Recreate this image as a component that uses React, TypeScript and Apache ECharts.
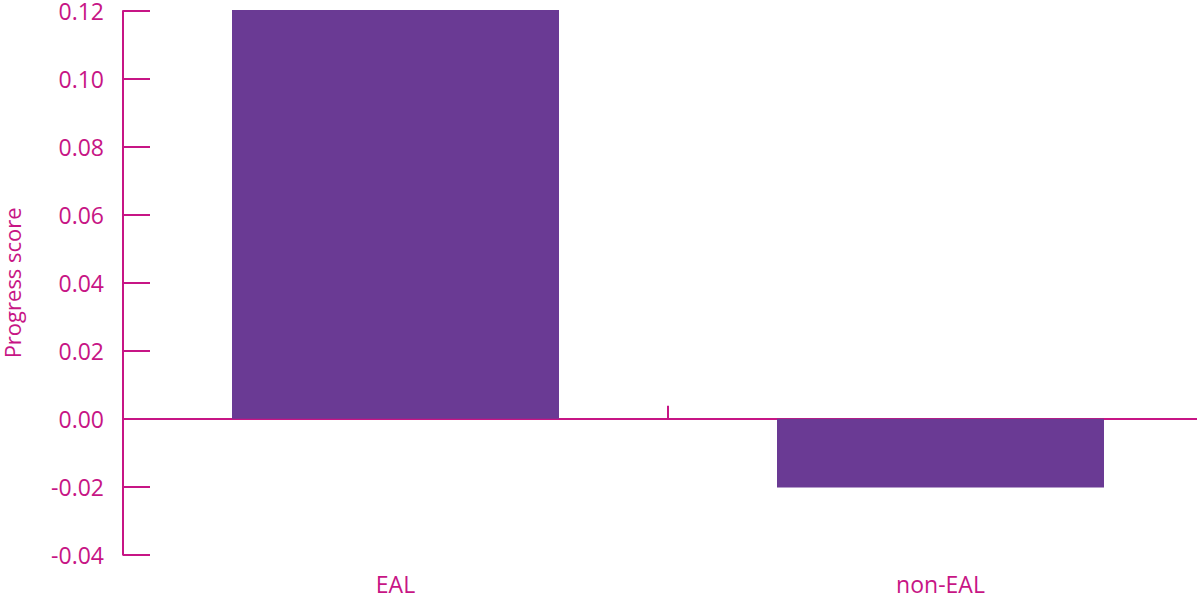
import React, { useEffect, useRef } from "react";
import * as echarts from "echarts";

const categories = ["EAL", "non-EAL"];
const progressScores = [0.1203, -0.0202];
const yMin = -0.04;
const yMax = 0.12;
const yInterval = 0.02;
const yAxisTitle = "Progress score";

const MAGENTA = "#C71585";
const PURPLE = "#6A3A94";
const FONT = "Open Sans";

export default function App() {
  const ref = useRef<HTMLDivElement>(null);
  useEffect(() => {
    if (!ref.current) return;
    const chart = echarts.init(ref.current, undefined, { renderer: "svg" });
    chart.setOption({
      animation: false,
      grid: { left: 123, right: 0, top: 11, bottom: 41.3, containLabel: false, outerBoundsMode: "none" },
      xAxis: [
        {
          type: "category",
          data: categories,
          axisLine: { onZero: true, lineStyle: { color: MAGENTA, width: 2 } },
          axisTick: { show: true, inside: true, length: 13, lineStyle: { color: MAGENTA, width: 2 } },
          axisLabel: { show: false },
          splitLine: { show: false },
        },
        {
          type: "category",
          data: categories,
          position: "bottom",
          axisLine: { show: false, onZero: false },
          axisTick: { show: false },
          axisLabel: { color: MAGENTA, fontFamily: FONT, fontSize: 23, margin: 17, lineHeight: 24 },
          splitLine: { show: false },
        },
      ],
      yAxis: {
        type: "value",
        min: yMin,
        max: yMax,
        interval: yInterval,
        name: yAxisTitle,
        nameLocation: "middle",
        nameGap: 100,
        nameTextStyle: { color: MAGENTA, fontFamily: FONT, fontSize: 22 },
        axisLine: { show: true, lineStyle: { color: MAGENTA, width: 2 } },
        axisTick: { show: true, inside: true, length: 27, lineStyle: { color: MAGENTA, width: 2 } },
        axisLabel: {
          color: MAGENTA,
          fontFamily: FONT,
          fontSize: 23,
          margin: 19,
          lineHeight: 24,
          formatter: (v: number) => v.toFixed(2),
        },
        splitLine: { show: false },
      },
      series: [
        {
          type: "bar",
          data: progressScores,
          xAxisIndex: 0,
          barCategoryGap: "40%",
          clip: false,
          itemStyle: { color: PURPLE },
        },
      ],
    });
    return () => chart.dispose();
  }, []);
  return (
    <div style={{ position: "fixed", left: 0, top: 0, width: 1197, height: 596, overflow: "hidden", background: "#fff" }}>
      <div ref={ref} style={{ width: 1213, height: 596 }} />
    </div>
  );
}
